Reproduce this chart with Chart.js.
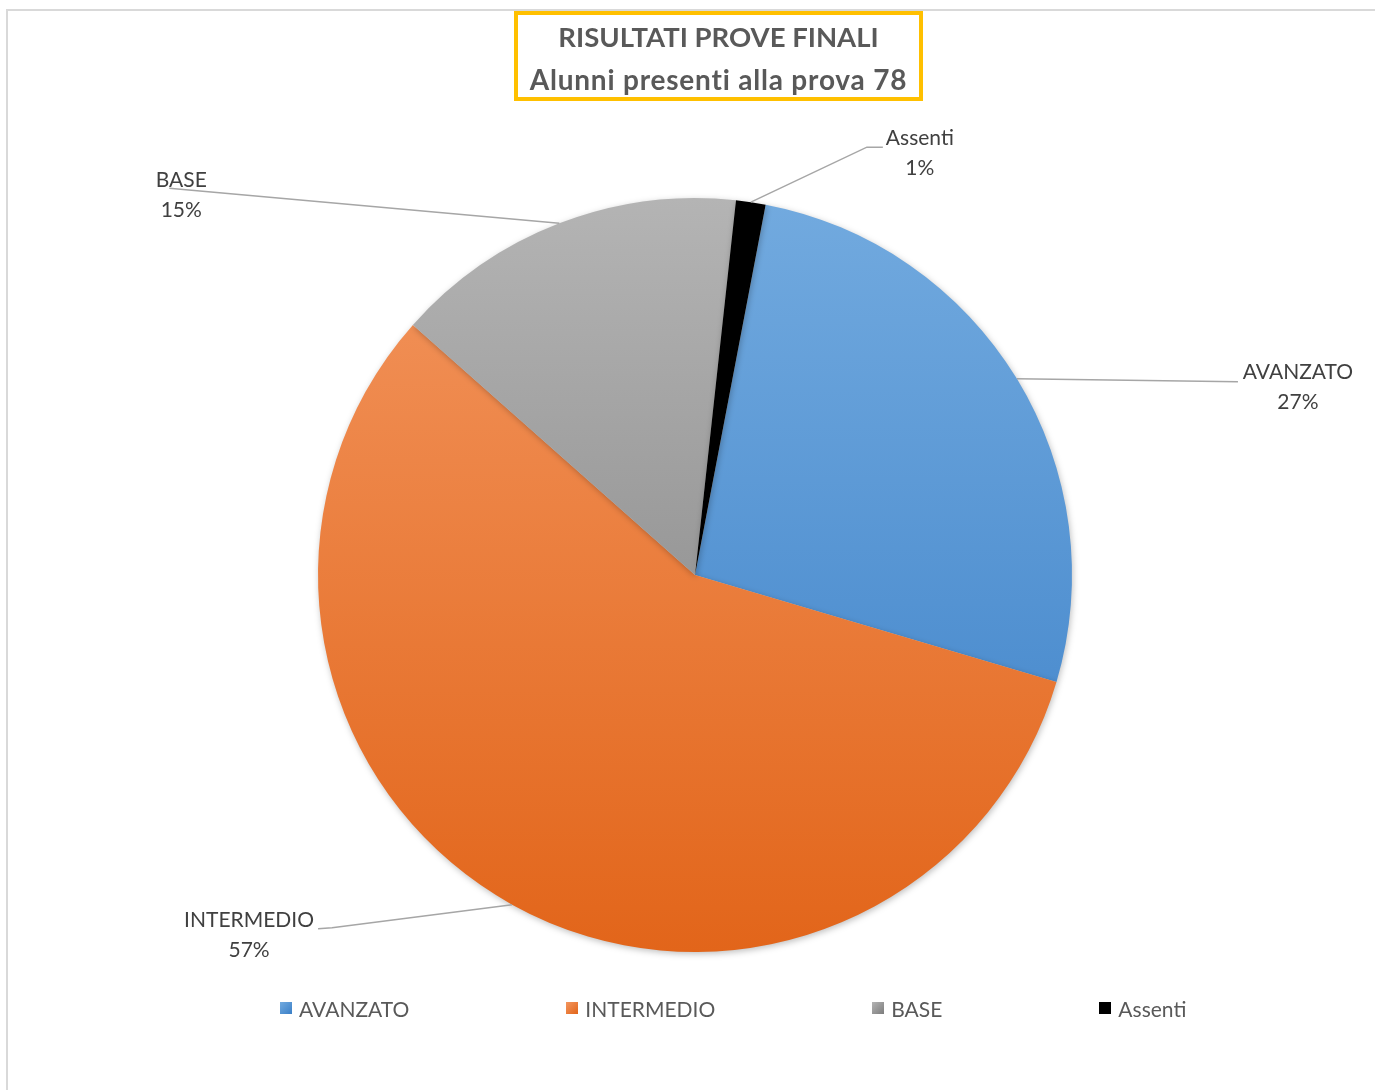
<!DOCTYPE html>
<html>
<head>
<meta charset="utf-8">
<script src="https://cdn.jsdelivr.net/npm/chart.js@4/dist/chart.umd.min.js"></script>
<style>
    body { margin: 0; background: #fff; }
    #wrap { position: relative; width: 1375px; height: 1090px; overflow: hidden; }
    #frame { position: absolute; left: 6px; top: 9px; width: 1400px; height: 1100px; border-left: 2px solid #d9d9d9; border-top: 2px solid #d9d9d9; }
    #title { position: absolute; left: 514px; top: 11px; width: 409px; height: 90px; box-sizing: border-box;
        border: 4px solid #ffc000; font-family: Lato, "Open Sans", sans-serif; font-weight: bold;
        color: #595959; text-align: center; line-height: 39px; padding-top: 2px; font-variant-ligatures: none; }
    #title .l1 { font-size: 27.5px; }
    #title .l2 { font-size: 28px; letter-spacing: 0.8px; }
    #legend { position: absolute; left: 280px; top: 996px; display: flex; font-family: Lato, sans-serif; font-size: 21px; color: #595959; }
    .item { display: flex; align-items: center; margin-right: 157px; height: 24px; }
    .box { width: 12px; height: 12px; margin-right: 7px; }
    canvas { position: absolute; left: 0; top: 0; }
</style>
</head>
<body>
<div id="wrap">
    <div id="frame"></div>
    <canvas id="pieChart" width="1375" height="1090"></canvas>
    <div id="title"><span class="l1">RISULTATI PROVE FINALI</span><br><span class="l2">Alunni presenti alla prova 78</span></div>
    <div id="legend"></div>
</div>
<script>
    const categories = ["AVANZATO", "INTERMEDIO", "BASE", "Assenti"];
    const counts = [21, 45, 12, 1];
    const colorTop = ["#72aadf", "#f3965f", "#b4b4b4", "#000000"];
    const colorBottom = ["#3a7fc7", "#e2651a", "#7c7c7c", "#000000"];

    // leader line bends and label centres, relative to the slice's outer mid point
    const leaders = [
        { pts: [[221, 3]], text: [281, -7] },
        { pts: [[-180, 23], [-194, 24]], text: [-263, 16] },
        { pts: [[-390, -35]], text: [-378, -43] },
        { pts: [[116, -55], [132, -55]], text: [169, -64] }
    ];

    const total = counts.reduce((a, b) => a + b, 0);

    function sliceFill(context) {
        const chart = context.chart;
        const area = chart.chartArea;
        if (!area) return colorTop[context.dataIndex];
        const g = chart.ctx.createLinearGradient(0, area.top, 0, area.bottom);
        g.addColorStop(0, colorTop[context.dataIndex]);
        g.addColorStop(1, colorBottom[context.dataIndex]);
        return g;
    }

    const shadowPlugin = {
        id: "shadow",
        beforeDatasetsDraw(chart) {
            const ctx = chart.ctx;
            ctx.save();
            ctx.shadowColor = "rgba(0,0,0,0.25)";
            ctx.shadowBlur = 6;
            ctx.shadowOffsetX = 1;
            ctx.shadowOffsetY = 2;
        },
        afterDatasetsDraw(chart) {
            chart.ctx.restore();
        }
    };

    const labelPlugin = {
        id: "leaderLabels",
        afterDraw(chart) {
            const ctx = chart.ctx;
            const meta = chart.getDatasetMeta(0);
            ctx.save();
            meta.data.forEach((arc, i) => {
                const mid = (arc.startAngle + arc.endAngle) / 2;
                const x0 = arc.x + Math.cos(mid) * arc.outerRadius;
                const y0 = arc.y + Math.sin(mid) * arc.outerRadius;
                const l = leaders[i];
                ctx.strokeStyle = "#a6a6a6";
                ctx.lineWidth = 1.5;
                ctx.beginPath();
                ctx.moveTo(x0, y0);
                l.pts.forEach(p => ctx.lineTo(x0 + p[0], y0 + p[1]));
                ctx.stroke();
                const pct = Math.round(counts[i] / total * 100) + "%";
                ctx.fillStyle = "#404040";
                ctx.font = "21px Lato, sans-serif";
                ctx.textAlign = "center";
                ctx.textBaseline = "middle";
                ctx.fillText(categories[i], x0 + l.text[0], y0 + l.text[1]);
                ctx.fillText(pct, x0 + l.text[0], y0 + l.text[1] + 30);
            });
            ctx.restore();
        }
    };

    const legendEl = document.getElementById("legend");
    categories.forEach((name, i) => {
        const item = document.createElement("div");
        item.className = "item";
        const box = document.createElement("span");
        box.className = "box";
        box.style.background = i === 3 ? "#000" :
            "linear-gradient(135deg, " + colorTop[i] + ", " + colorBottom[i] + ")";
        item.appendChild(box);
        item.appendChild(document.createTextNode(name));
        legendEl.appendChild(item);
    });

    const ctxPie = document.getElementById("pieChart").getContext("2d");
    new Chart(ctxPie, {
        type: "pie",
        data: {
            labels: categories,
            datasets: [{
                data: counts,
                backgroundColor: sliceFill,
                borderWidth: 0
            }]
        },
        options: {
            responsive: false,
            animation: false,
            rotation: 10.8,
            layout: { padding: { top: 198, bottom: 138, left: 318, right: 303 } },
            plugins: {
                legend: { display: false },
                title: { display: false },
                tooltip: { enabled: false }
            }
        },
        plugins: [shadowPlugin, labelPlugin]
    });
</script>
</body>
</html>
